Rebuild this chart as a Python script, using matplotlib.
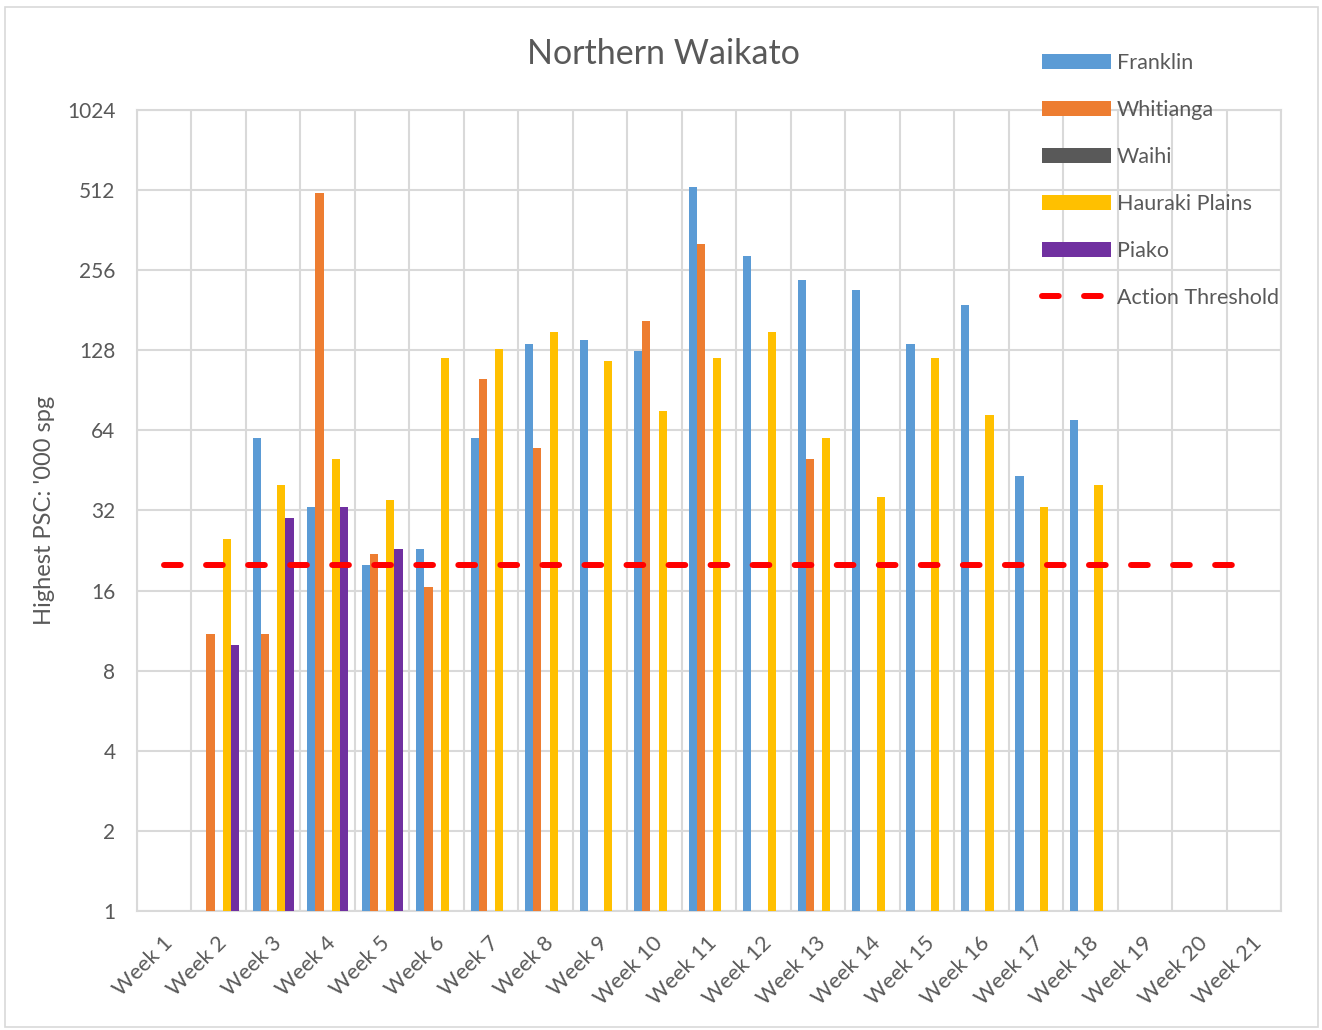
import numpy as np
import matplotlib
matplotlib.use('Agg')
import matplotlib.pyplot as plt
from matplotlib.patches import Rectangle
from matplotlib.ticker import NullLocator, FixedLocator
import matplotlib.transforms as mtransforms

nan = np.nan
weeks = [f"Week {i}" for i in range(1, 22)]
franklin = [nan, nan, 60, 33, 20, 23, 60, 135, 140, 127, 525, 290, 235, 215, 135, 190, 43, 70, nan, nan, nan]
whitianga = [nan, 11, 11, 500, 22, 16.5, 100, 55, nan, 165, 320, nan, 50, nan, nan, nan, nan, nan, nan, nan, nan]
waihi = [nan] * 21
hauraki = [nan, 25, 40, 50, 35, 120, 130, 150, 117, 76, 120, 150, 60, 36, 120, 73, 33, 40, nan, nan, nan]
piako = [nan, 10, 30, 33, 23, nan, nan, nan, nan, nan, nan, nan, nan, nan, nan, nan, nan, nan, nan, nan, nan]
threshold = 20
yticks = [1, 2, 4, 8, 16, 32, 64, 128, 256, 512, 1024]

series = [
    ("Franklin", franklin, "#5b9bd5"),
    ("Whitianga", whitianga, "#ed7d31"),
    ("Waihi", waihi, "#595959"),
    ("Hauraki Plains", hauraki, "#ffc000"),
    ("Piako", piako, "#7030a0"),
]

plt.rcParams['font.family'] = ['Lato', 'DejaVu Sans']
W, H = 1322, 1030
fig = plt.figure(figsize=(W / 100, H / 100), dpi=100)
ax = fig.add_axes([137 / W, 1 - 911 / H, (1281 - 137) / W, (911 - 110) / H])
ax.set_yscale('log', base=2)

x = np.arange(len(weeks))
bw = 0.15
handles = []
for i, (name, vals, col) in enumerate(series):
    bc = ax.bar(x + (i - 2) * bw, vals, width=bw, color=col, label=name, zorder=3)
    handles.append(bc)

line, = ax.plot(x, [threshold] * len(x), color='#ff0000', lw=4.3, dashes=(2.8, 4.24),
                dash_capstyle='round', label='Action Threshold', zorder=4)
handles.append(line)

ax.set_ylim(1, 1024)
ax.set_xlim(-0.5, len(weeks) - 0.5)
ax.yaxis.set_major_locator(FixedLocator(yticks))
ax.yaxis.set_minor_locator(NullLocator())
ax.set_yticklabels([str(v) for v in yticks])
ax.set_xticks(x)
ax.set_xticklabels(weeks, rotation=45, ha='right', va='center', rotation_mode='anchor')
ax.set_xticks(np.arange(-0.5, len(weeks), 1), minor=True)

grid_c = '#d9d9d9'
ax.set_axisbelow(True)
ax.yaxis.grid(True, which='major', color=grid_c, lw=1.5)
ax.xaxis.grid(True, which='minor', color=grid_c, lw=1.5)
ax.xaxis.grid(False, which='major')
for s in ax.spines.values():
    s.set_color(grid_c)
    s.set_linewidth(1.5)

ax.tick_params(axis='both', which='both', length=0, labelsize=15, labelcolor='#595959')
ax.tick_params(axis='x', labelsize=15.7, pad=21)
ax.tick_params(axis='y', pad=15.5)
offset = mtransforms.ScaledTranslation(5 / 100, 0, fig.dpi_scale_trans)
for lab in ax.get_xticklabels():
    lab.set_transform(lab.get_transform() + offset)

fig.text(663 / W, 1 - 64 / H, "Northern Waikato", ha='center', va='baseline',
         fontsize=24.5, color='#595959')
fig.text(45 / W, 1 - 510 / H, "Highest PSC: '000 spg", ha='center', va='center',
         rotation=90, fontsize=17, color='#595959')

leg = ax.legend(handles=handles, loc='upper left', bbox_to_anchor=(1042 / W, 1 - 53 / H),
                bbox_transform=fig.transFigure, frameon=False, fontsize=15.5,
                handlelength=3.2, handletextpad=0.27, labelspacing=1.25,
                borderpad=0, borderaxespad=0)
for t in leg.get_texts():
    t.set_color('#595959')

fig.patches.append(Rectangle((5 / W, 1 - 1027 / H), 1313 / W, 1020 / H,
                             transform=fig.transFigure, fill=False,
                             edgecolor=grid_c, lw=1.2))

fig.savefig('out.png', dpi=100, facecolor='white')
